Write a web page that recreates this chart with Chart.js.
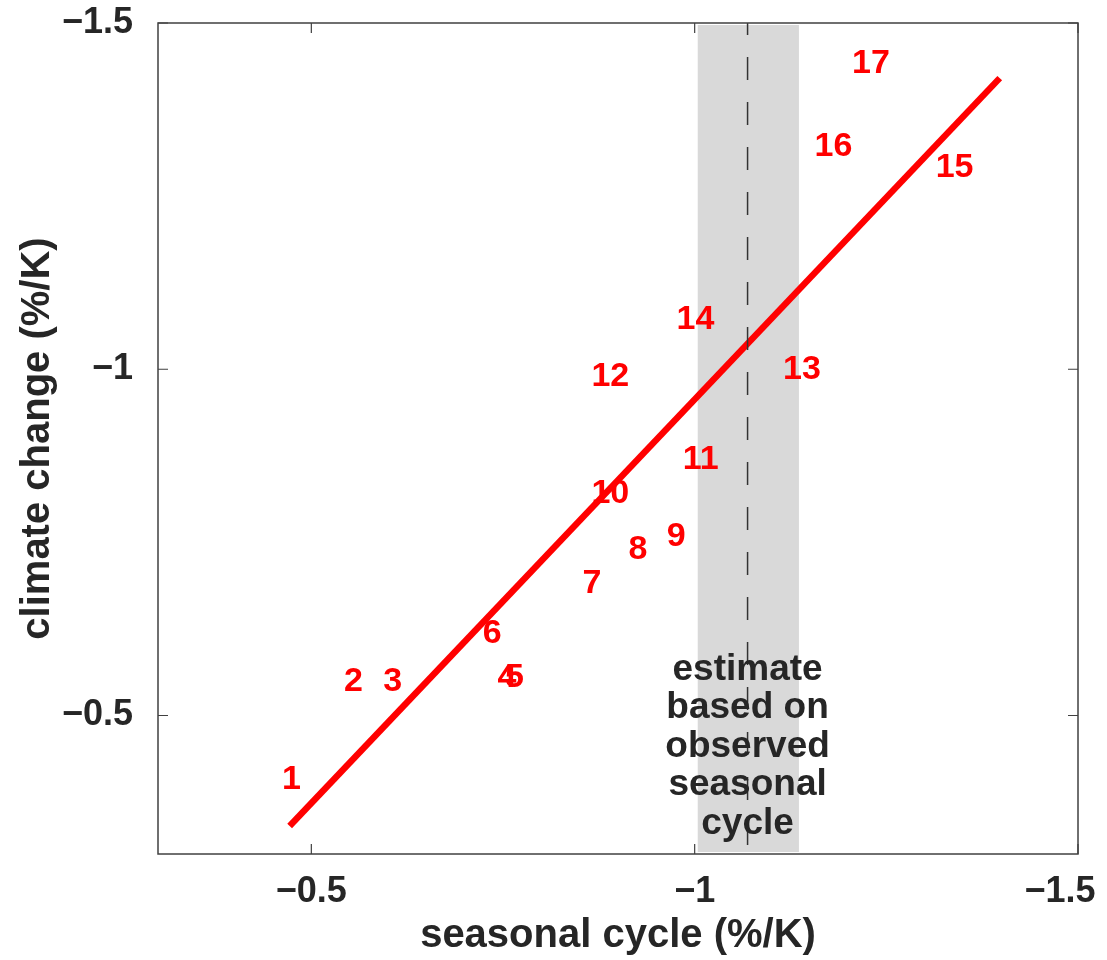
<!DOCTYPE html>
<html>
<head>
<meta charset="utf-8">
<script src="https://cdn.jsdelivr.net/npm/chart.js@4.4.1/dist/chart.umd.min.js"></script>
<style>
  html, body { margin: 0; padding: 0; background: #fff; }
  #wrap { width: 1107px; height: 960px; }
</style>
</head>
<body>
<div id="wrap"><canvas id="scatter"></canvas></div>
<script>
'use strict'
//모델 번호
const modelLabels = ['1','2','3','4','5','6','7','8','9','10','11','12','13','14','15','16','17'];
//계절 주기 값 (x)
const seasonalValues = [-0.474,-0.555,-0.606,-0.755,-0.765,-0.736,-0.866,-0.926,-0.976,-0.890,-1.008,-0.890,-1.140,-1.001,-1.339,-1.181,-1.230];
//기후 변화 값 (y)
const climateValues = [-0.408,-0.549,-0.549,-0.555,-0.555,-0.618,-0.690,-0.740,-0.759,-0.821,-0.869,-0.989,-1.000,-1.071,-1.291,-1.321,-1.442];
//회귀선 양 끝
const fitX = [-0.4717, -1.3979];
const fitY = [-0.3405, -1.4204];
//관측 추정 범위
const obsRange = [-1.004, -1.136];
const obsBest = -1.069;
//눈금
const xTicks = [-0.5, -1, -1.5];
const yTicks = [-0.5, -1, -1.5];
//주석 텍스트
const noteLines = ['estimate', 'based on', 'observed', 'seasonal', 'cycle'];
const noteTop = -0.5516;

const FONT = '"Liberation Sans", Arial, Helvetica, sans-serif';
const INK = '#262626';

//==================================================================================================

function fmtTick(v){
    return (v < 0 ? '\u2212' : '') + String(Math.abs(v));
}

//x축 오른쪽 끝 라벨은 그림 밖으로 안 나가게 살짝 왼쪽으로
function fmtXTick(v){
    if(v === -1.5)
        return fmtTick(v) + '\u2002\u2002';
    return fmtTick(v);
}

//축 라벨이 넘쳐도 여백을 늘리지 않게
function noPad(s){
    s.paddingLeft = 0;
    s.paddingRight = 0;
    s.paddingTop = 0;
    s.paddingBottom = 0;
}

//회색 범위 그리기 (데이터 뒤)
const bandPlugin = {
    id: 'band',
    beforeDatasetsDraw(chart){
        const {ctx, chartArea, scales: {x}} = chart;
        const x1 = x.getPixelForValue(obsRange[0]);
        const x2 = x.getPixelForValue(obsRange[1]);
        ctx.save();
        ctx.fillStyle = '#d9d9d9';
        ctx.fillRect(Math.min(x1, x2), chartArea.top + 2, Math.abs(x2 - x1), chartArea.bottom - chartArea.top - 4);
        ctx.restore();
    }
};

//번호 라벨, 주석, 테두리와 안쪽 눈금
const overlayPlugin = {
    id: 'overlay',
    afterDatasetsDraw(chart){
        const {ctx, scales: {x, y}} = chart;
        const meta = chart.getDatasetMeta(2);
        ctx.save();
        ctx.fillStyle = '#ff0000';
        ctx.font = 'bold 34px ' + FONT;
        ctx.textAlign = 'center';
        ctx.textBaseline = 'middle';
        meta.data.forEach((el, i) => {
            ctx.fillText(modelLabels[i], el.x, el.y);
        });
        //주석
        ctx.fillStyle = INK;
        ctx.font = 'bold 37px ' + FONT;
        ctx.textBaseline = 'alphabetic';
        const nx = x.getPixelForValue(obsBest);
        const ny = y.getPixelForValue(noteTop);
        noteLines.forEach((line, i) => {
            ctx.fillText(line, nx, ny + i * 38.5);
        });
        ctx.restore();
    },
    afterDraw(chart){
        const {ctx, chartArea: a, scales: {x, y}} = chart;
        ctx.save();
        ctx.strokeStyle = '#404040';
        ctx.lineWidth = 1.5;
        ctx.strokeRect(a.left, a.top, a.right - a.left, a.bottom - a.top);
        ctx.lineWidth = 1.2;
        ctx.beginPath();
        xTicks.forEach((v) => {
            const px = x.getPixelForValue(v);
            ctx.moveTo(px, a.bottom); ctx.lineTo(px, a.bottom - 10);
            ctx.moveTo(px, a.top); ctx.lineTo(px, a.top + 10);
        });
        yTicks.forEach((v) => {
            const py = y.getPixelForValue(v);
            ctx.moveTo(a.left, py); ctx.lineTo(a.left + 10, py);
            ctx.moveTo(a.right, py); ctx.lineTo(a.right - 10, py);
        });
        ctx.stroke();
        ctx.restore();
    }
};

//==================================================================================================

window.onload = function(){
    const labelPoints = seasonalValues.map((v, i) => ({ x: v, y: climateValues[i] }));

    new Chart(document.getElementById('scatter'), {
        type: 'scatter',
        data: {
            datasets: [
                {
                    //관측 추정 중심선
                    type: 'line',
                    data: [{ x: obsBest, y: -1.5 }, { x: obsBest, y: -0.3 }],
                    borderColor: '#333333',
                    borderWidth: 1.5,
                    borderDash: [23, 22],
                    borderDashOffset: 11,
                    pointRadius: 0
                },
                {
                    //회귀선
                    type: 'line',
                    data: [{ x: fitX[0], y: fitY[0] }, { x: fitX[1], y: fitY[1] }],
                    borderColor: '#ff0000',
                    borderWidth: 6.5,
                    borderCapStyle: 'butt',
                    pointRadius: 0
                },
                {
                    //모델 위치
                    data: labelPoints,
                    pointRadius: 0,
                    pointHoverRadius: 0
                }
            ]
        },
        options: {
            responsive: true,
            maintainAspectRatio: false,
            animation: false,
            events: [],
            layout: { padding: { top: 23, right: 29, left: 0, bottom: 0 } },
            plugins: {
                legend: { display: false },
                tooltip: { enabled: false }
            },
            scales: {
                x: {
                    type: 'linear',
                    min: -1.5,
                    max: -0.3,
                    reverse: true,
                    grid: { display: false },
                    border: { display: false },
                    afterBuildTicks: (s) => { s.ticks = xTicks.map((v) => ({ value: v })); },
                    afterFit: (s) => { s.height = 106; noPad(s); },
                    ticks: {
                        padding: 8,
                        color: INK,
                        font: { family: FONT, size: 36, weight: 'bold' },
                        callback: fmtXTick
                    },
                    title: {
                        display: true,
                        text: 'seasonal cycle (%/K)',
                        color: INK,
                        padding: { top: 0, bottom: 0 },
                        font: { family: FONT, size: 40, weight: 'bold' }
                    }
                },
                y: {
                    type: 'linear',
                    min: -1.5,
                    max: -0.3,
                    reverse: true,
                    grid: { display: false },
                    border: { display: false },
                    afterBuildTicks: (s) => { s.ticks = yTicks.map((v) => ({ value: v })); },
                    afterFit: (s) => { s.width = 158; noPad(s); },
                    ticks: {
                        padding: 17,
                        color: INK,
                        font: { family: FONT, size: 36, weight: 'bold' },
                        callback: fmtTick
                    },
                    title: {
                        display: true,
                        text: 'climate change (%/K)',
                        color: INK,
                        padding: { top: 14, bottom: 0 },
                        font: { family: FONT, size: 40, weight: 'bold' }
                    }
                }
            }
        },
        plugins: [bandPlugin, overlayPlugin]
    });
}
</script>
</body>
</html>
